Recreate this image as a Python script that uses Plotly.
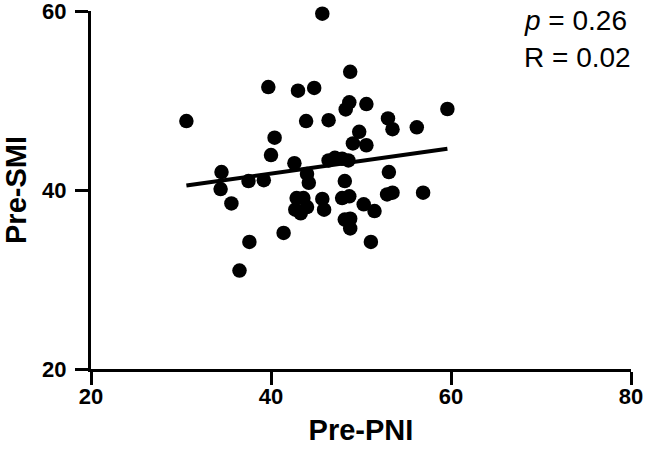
import plotly.graph_objects as go

# Pre-PNI (x) and Pre-SMI (y) values
pre_pni = [30.6, 34.5, 34.4, 35.6, 36.5, 37.6, 37.5, 39.2, 39.7, 40.4,
           40.0, 41.4, 42.6, 42.85, 43.6, 42.7, 43.3, 44.0, 43.0, 44.8,
           43.9, 44.0, 44.2, 45.7, 46.4, 45.7, 45.9, 46.4, 47.1, 47.9,
           48.6, 48.2, 47.9, 48.7, 48.2, 48.8, 48.8, 48.8, 48.7, 48.3,
           50.6, 49.8, 49.1, 50.6, 50.3, 51.5, 51.1, 53.0, 53.5, 53.1,
           52.9, 53.5, 56.2, 56.9, 59.6]
pre_smi = [47.7, 42.0, 40.1, 38.5, 31.0, 34.2, 41.0, 41.1, 51.5, 45.85,
           43.9, 35.2, 43.0, 39.1, 39.1, 37.8, 37.4, 38.1, 51.1, 51.4,
           47.7, 41.8, 40.8, 59.7, 47.8, 39.0, 37.8, 43.3, 43.6, 43.5,
           43.3, 41.0, 39.1, 39.3, 36.7, 36.8, 35.7, 53.2, 49.8, 49.0,
           49.6, 46.5, 45.2, 45.0, 38.4, 37.65, 34.2, 48.0, 46.8, 42.0,
           39.5, 39.7, 47.0, 39.7, 49.05]

# regression line endpoints
fit_x = [30.6, 59.6]
fit_y = [40.5, 44.6]

x_ticks = [20, 40, 60, 80]
y_ticks = [20, 40, 60]

FONT = "Liberation Sans, Arial, Helvetica, sans-serif"

fig = go.Figure()
fig.add_trace(go.Scatter(x=pre_pni, y=pre_smi, mode="markers",
                         marker=dict(color="black", size=14.5, line=dict(width=0)),
                         cliponaxis=False, showlegend=False))
fig.add_trace(go.Scatter(x=fit_x, y=fit_y, mode="lines",
                         line=dict(color="black", width=4),
                         showlegend=False))

axis_common = dict(showgrid=False, zeroline=False, showline=True,
                   linecolor="black", linewidth=3, ticks="outside",
                   ticklen=13, tickwidth=3, tickcolor="black",
                   ticklabeloverflow="allow", automargin=False,
                   tickfont=dict(family=FONT, size=22, color="black", weight="bold"))

fig.update_xaxes(range=[20, 80], tickvals=x_ticks, ticktext=[str(v) for v in x_ticks],
                 title=dict(text="<b>Pre-PNI</b>", font=dict(family=FONT, size=29, color="black"),
                            standoff=12),
                 ticklabelstandoff=-7,
                 **axis_common)
fig.update_yaxes(range=[20, 60], tickvals=y_ticks, ticktext=[str(v) for v in y_ticks],
                 title=dict(text="<b>Pre-SMI</b>", font=dict(family=FONT, size=29, color="black"),
                            standoff=16),
                 ticklabelstandoff=4,
                 **axis_common)

fig.add_annotation(xref="paper", yref="paper", x=0.798, y=(369 - 20) / 358,
                   xanchor="left", yanchor="middle", showarrow=False,
                   text="<i>p</i> = 0.26", font=dict(family=FONT, size=28, color="black"))
fig.add_annotation(xref="paper", yref="paper", x=0.798, y=(369 - 57) / 358,
                   xanchor="left", yanchor="middle", showarrow=False,
                   text="R = 0.02", font=dict(family=FONT, size=28, color="black"))

fig.update_layout(width=646, height=460, margin=dict(l=91, r=15, t=11, b=91),
                  paper_bgcolor="white", plot_bgcolor="white")

fig.write_html("out.html")
